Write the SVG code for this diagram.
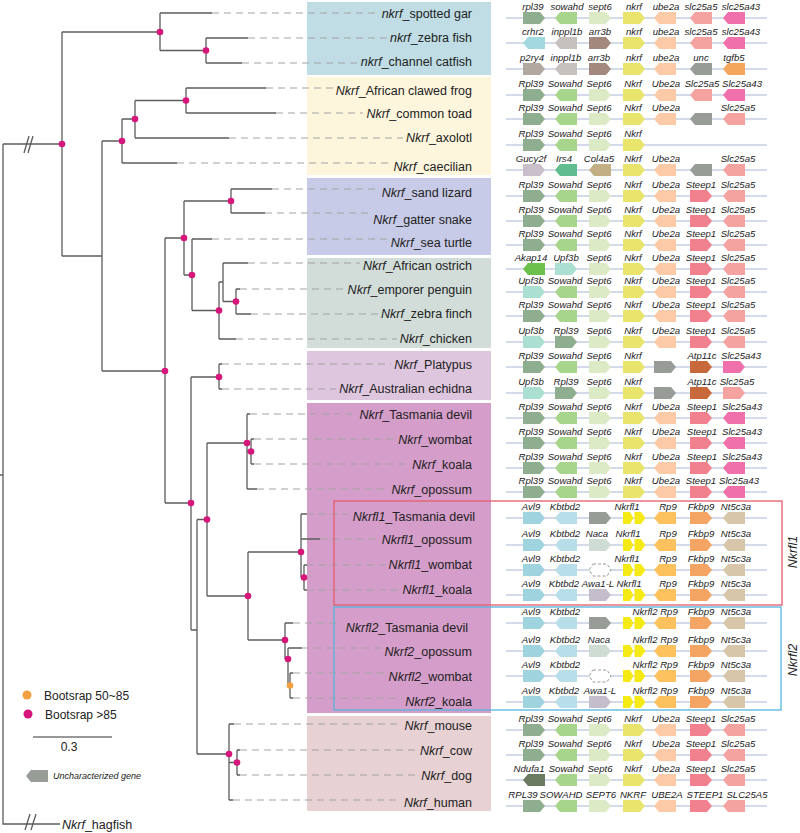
<svg xmlns="http://www.w3.org/2000/svg" width="800" height="833" viewBox="0 0 800 833">
<style>
.br{fill:none;stroke:#5c5c5c;stroke-width:1.3}
.dl{stroke:#a3a3a3;stroke-width:1;stroke-dasharray:7 5}
.dot{fill:#d6167a}
.dot2{fill:#f5a040}
.tx{font-family:"Liberation Sans",Arial,sans-serif;font-size:12.5px;fill:#222}
.it{font-style:italic}
.gl{font-family:"Liberation Sans",Arial,sans-serif;font-size:9.6px;font-style:italic;fill:#222;text-anchor:middle}
.trk{stroke:#a7b5d3;stroke-width:1.2}
.rpl{fill:#8fae8f}.sow{fill:#a8d58c}.sep{fill:#dcebc6}.nkf{fill:#e8e46c}.ube{fill:#fdcaa8}.s5{fill:#f5a3a1}.s43{fill:#ef70aa}
.crh{fill:#a2d9df}.inp{fill:#c6c1bf}.arr{fill:#a3887d}.p2r{fill:#b1a8a0}.unc{fill:#979c97}.tgf{fill:#f4a65c}.stp{fill:#f2818f}
.guc{fill:#c9bfcb}.irs{fill:#5fbd8e}.col{fill:#c2b084}.aka{fill:#6cc14c}.upf{fill:#aadfd2}.atp{fill:#c8693b}
.avl{fill:#9fd4df}.kbt{fill:#b8dfe9}.nac{fill:#cfdcd4}.awa{fill:#c4bdcb}.nkl{fill:#f5ea16}.rp9{fill:#fdc25e}.fkb{fill:#f4a564}.nt5{fill:#d8c6aa}.ndu{fill:#6a7a60}
.emp{fill:#fff;stroke:#9a9a9a;stroke-width:1;stroke-dasharray:3 2}
</style>
<defs>
<path id="R" d="M0,-6H17L22,0L17,6H0Z"/>
<path id="L" d="M5,-6H22V6H5L0,0Z"/>
<path id="D" d="M0,-6H7L10.5,0L7,6H0Z M11.5,-6H18L22.5,0L18,6H11.5Z"/>
<path id="E" d="M4,-6H18L22,0L18,6H4L0,0Z"/>
</defs>
<rect width="800" height="833" fill="#fff"/>
<g id="bands">
<rect x="307" y="2" width="184" height="73" fill="#c0dde5"/>
<rect x="307" y="77" width="184" height="98" fill="#fdf5dc"/>
<rect x="307" y="178" width="184" height="77" fill="#c8cbe8"/>
<rect x="307" y="258" width="184" height="90" fill="#d2ddd9"/>
<rect x="307" y="351" width="184" height="49" fill="#dfc6df"/>
<rect x="307" y="403" width="184" height="310" fill="#d59dc9"/>
<rect x="307" y="716" width="184" height="95" fill="#e7d1d3"/>
</g>
<g id="connectors">
<path class="br" d="M3,144H62M3,144V824H60M0,475H3
M62,32V256M62,32H160M62,256H102
M160,13V50.5M160,13H212M160,50.5H206
M206,38V63M206,38H248M206,63H242
M102,141V371M102,141H122M102,371H165
M122,119V163M122,119H135M122,163H177
M135,100.5V138M135,100.5H186M135,138H229
M186,88V113M186,88H266M186,113H276
M165,238V503M165,238H184M165,503H191
M184,201V275M184,201H231M184,275H192
M231,189V213M231,189H272M231,213H265
M192,239V310.5M192,239H212M192,310.5H219
M219,282V339M219,282H223M219,339H236
M223,263V301.5M223,263H248M223,301.5H236
M236,289V314M236,289H240M236,314H251
M191,377V630M191,377H219M191,630H197
M219,364V389M219,364H222M219,389H222
M197,519.5V754M197,519.5H207M197,754H229
M207,443V596M207,443H247M207,596H248
M247,414V489M247,414H250M247,489H257M247,451.5H251
M251,439V464M251,439H254M251,464H254
M248,552V640M248,552H301M248,640H285
M301,514V577.5M301,514H307M301,539H320M301,577.5H304
M304,565V590M304,565H307M304,590H307
M285,623V659M285,623H293M285,659H288
M288,648V685.5M288,648H302M288,685.5H290
M290,673V698M290,673H293M290,698H293
M229,724V800M229,724H234M229,800H233M229,762.5H237
M237,750V775M237,750H240M237,775H240"/>
<path class="br" d="M24,153L29,136M28,153L33,136M25,830L30,814M31,830L36,814"/>
<g id="dashes">
<line class="dl" x1="212" y1="13" x2="379" y2="13"/>
<line class="dl" x1="248" y1="38" x2="387" y2="38"/>
<line class="dl" x1="242" y1="63" x2="358" y2="63"/>
<line class="dl" x1="266" y1="88" x2="333" y2="88"/>
<line class="dl" x1="276" y1="113" x2="363" y2="113"/>
<line class="dl" x1="229" y1="138" x2="403" y2="138"/>
<line class="dl" x1="177" y1="163" x2="390" y2="163"/>
<line class="dl" x1="272" y1="189" x2="379" y2="189"/>
<line class="dl" x1="265" y1="213" x2="370" y2="213"/>
<line class="dl" x1="212" y1="239" x2="388" y2="239"/>
<line class="dl" x1="248" y1="263" x2="360" y2="263"/>
<line class="dl" x1="240" y1="289" x2="345" y2="289"/>
<line class="dl" x1="251" y1="314" x2="378" y2="314"/>
<line class="dl" x1="236" y1="339" x2="397" y2="339"/>
<line class="dl" x1="222" y1="364" x2="391" y2="364"/>
<line class="dl" x1="222" y1="389" x2="336" y2="389"/>
<line class="dl" x1="250" y1="414" x2="355" y2="414"/>
<line class="dl" x1="254" y1="439" x2="395" y2="439"/>
<line class="dl" x1="254" y1="464" x2="409" y2="464"/>
<line class="dl" x1="257" y1="489" x2="388" y2="489"/>
<line class="dl" x1="307" y1="514" x2="348" y2="514"/>
<line class="dl" x1="320" y1="539" x2="379" y2="539"/>
<line class="dl" x1="307" y1="565" x2="386" y2="565"/>
<line class="dl" x1="307" y1="590" x2="399" y2="590"/>
<line class="dl" x1="293" y1="623" x2="341" y2="623"/>
<line class="dl" x1="302" y1="648" x2="381" y2="648"/>
<line class="dl" x1="293" y1="673" x2="386" y2="673"/>
<line class="dl" x1="293" y1="698" x2="402" y2="698"/>
<line class="dl" x1="234" y1="724" x2="402" y2="724"/>
<line class="dl" x1="240" y1="750" x2="417" y2="750"/>
<line class="dl" x1="240" y1="775" x2="418" y2="775"/>
<line class="dl" x1="233" y1="800" x2="401" y2="800"/>
</g>
</g>
<g id="bootstrap-dots">
<circle class="dot" cx="62" cy="144" r="3.3"/><circle class="dot" cx="160" cy="32" r="3.3"/><circle class="dot" cx="206" cy="50.5" r="3.3"/>
<circle class="dot" cx="122" cy="141" r="3.3"/><circle class="dot" cx="135" cy="119" r="3.3"/><circle class="dot" cx="186" cy="100.5" r="3.3"/>
<circle class="dot" cx="165" cy="371" r="3.3"/><circle class="dot" cx="184" cy="238" r="3.3"/><circle class="dot" cx="231" cy="201" r="3.3"/>
<circle class="dot" cx="192" cy="275" r="3.3"/><circle class="dot" cx="219" cy="310.5" r="3.3"/><circle class="dot" cx="236" cy="301.5" r="3.3"/>
<circle class="dot" cx="219" cy="377" r="3.3"/><circle class="dot" cx="191" cy="503" r="3.3"/><circle class="dot" cx="207" cy="519.5" r="3.3"/>
<circle class="dot" cx="247" cy="443" r="3.3"/><circle class="dot" cx="251" cy="451.5" r="3.3"/><circle class="dot" cx="248" cy="596" r="3.3"/>
<circle class="dot" cx="301" cy="552" r="3.3"/><circle class="dot" cx="304" cy="577.5" r="3.3"/><circle class="dot" cx="285" cy="640" r="3.3"/>
<circle class="dot" cx="288" cy="659" r="3.3"/><circle class="dot2" cx="290" cy="685.5" r="3.3"/>
<circle class="dot" cx="229" cy="754" r="3.3"/><circle class="dot" cx="237" cy="762.5" r="3.3"/>
</g>
<g id="taxa" class="tx" text-anchor="end">
<g id="t-spotted-gar"><text x="472" y="17.5"><tspan class="it">nkrf</tspan>_spotted gar</text></g>
<g id="t-zebra-fish"><text x="472" y="41.5"><tspan class="it">nkrf</tspan>_zebra fish</text></g>
<g id="t-channel-catfish"><text x="472" y="65.5"><tspan class="it">nkrf</tspan>_channel catfish</text></g>
<g id="t-clawed-frog"><text x="472" y="94.5"><tspan class="it">Nkrf</tspan>_African clawed frog</text></g>
<g id="t-common-toad"><text x="472" y="117.5"><tspan class="it">Nkrf</tspan>_common toad</text></g>
<g id="t-axolotl"><text x="472" y="141.5"><tspan class="it">Nkrf</tspan>_axolotl</text></g>
<g id="t-caecilian"><text x="472" y="170.5"><tspan class="it">Nkrf</tspan>_caecilian</text></g>
<g id="t-sand-lizard"><text x="472" y="196.5"><tspan class="it">Nkrf</tspan>_sand lizard</text></g>
<g id="t-gatter-snake"><text x="472" y="223.5"><tspan class="it">Nkrf</tspan>_gatter snake</text></g>
<g id="t-sea-turtle"><text x="472" y="246.5"><tspan class="it">Nkrf</tspan>_sea turtle</text></g>
<g id="t-ostrich"><text x="472" y="269.5"><tspan class="it">Nkrf</tspan>_African ostrich</text></g>
<g id="t-penguin"><text x="472" y="293.5"><tspan class="it">Nkrf</tspan>_emporer penguin</text></g>
<g id="t-zebra-finch"><text x="472" y="317.5"><tspan class="it">Nkrf</tspan>_zebra finch</text></g>
<g id="t-chicken"><text x="472" y="342.5"><tspan class="it">Nkrf</tspan>_chicken</text></g>
<g id="t-platypus"><text x="472" y="368.5"><tspan class="it">Nkrf</tspan>_Platypus</text></g>
<g id="t-echidna"><text x="472" y="392.5"><tspan class="it">Nkrf</tspan>_Australian echidna</text></g>
<g id="t-tasmania-devil"><text x="472" y="418.5"><tspan class="it">Nkrf</tspan>_Tasmania devil</text></g>
<g id="t-wombat"><text x="472" y="443.5"><tspan class="it">Nkrf</tspan>_wombat</text></g>
<g id="t-koala"><text x="472" y="468.5"><tspan class="it">Nkrf</tspan>_koala</text></g>
<g id="t-opossum"><text x="472" y="493.5"><tspan class="it">Nkrf</tspan>_opossum</text></g>
<g id="t-l1-tasmania-devil"><text x="475" y="520.5"><tspan class="it">Nkrfl1</tspan>_Tasmania devil</text></g>
<g id="t-l1-opossum"><text x="472" y="543.5"><tspan class="it">Nkrfl1</tspan>_opossum</text></g>
<g id="t-l1-wombat"><text x="472" y="568.5"><tspan class="it">Nkrfl1</tspan>_wombat</text></g>
<g id="t-l1-koala"><text x="472" y="593.5"><tspan class="it">Nkrfl1</tspan>_koala</text></g>
<g id="t-l2-tasmania-devil"><text x="468" y="631.5"><tspan class="it">Nkrfl2</tspan>_Tasmania devil</text></g>
<g id="t-l2-opossum"><text x="472" y="655.5"><tspan class="it">Nkrf2</tspan>_opossum</text></g>
<g id="t-l2-wombat"><text x="472" y="680.5"><tspan class="it">Nkrfl2</tspan>_wombat</text></g>
<g id="t-l2-koala"><text x="472" y="705.5"><tspan class="it">Nkrf2</tspan>_koala</text></g>
<g id="t-mouse"><text x="472" y="729.5"><tspan class="it">Nkrf</tspan>_mouse</text></g>
<g id="t-cow"><text x="472" y="754.5"><tspan class="it">Nkrf</tspan>_cow</text></g>
<g id="t-dog"><text x="472" y="779.5"><tspan class="it">Nkrf</tspan>_dog</text></g>
<g id="t-human"><text x="472" y="806.5"><tspan class="it">Nkrf</tspan>_human</text></g>
<g id="t-hagfish"><text x="62" y="828.5" text-anchor="start"><tspan class="it">Nkrf</tspan>_hagfish</text></g>
</g>
<g id="tracks">
<g id="g-spotted-gar" transform="translate(0,18)"><line class="trk" x1="506" x2="767"/>
<use href="#R" class="rpl" x="523"/><use href="#L" class="sow" x="555"/><use href="#R" class="sep" x="589"/><use href="#R" class="nkf" x="623"/><use href="#L" class="ube" x="654"/><use href="#L" class="s5" x="690"/><use href="#L" class="s43" x="723"/>
<text class="gl" y="-8.5"><tspan x="533">rpl39</tspan><tspan x="567">sowahd</tspan><tspan x="600">sept6</tspan><tspan x="634">nkrf</tspan><tspan x="666">ube2a</tspan><tspan x="701">slc25a5</tspan><tspan x="741">slc25a43</tspan></text></g>
<g id="g-zebra-fish" transform="translate(0,43)"><line class="trk" x1="506" x2="767"/>
<use href="#L" class="crh" x="523"/><use href="#L" class="inp" x="555"/><use href="#R" class="arr" x="589"/><use href="#R" class="nkf" x="623"/><use href="#L" class="ube" x="654"/><use href="#L" class="s5" x="690"/><use href="#L" class="s43" x="723"/>
<text class="gl" y="-8.5"><tspan x="533">crhr2</tspan><tspan x="567">inppl1b</tspan><tspan x="600">arr3b</tspan><tspan x="634">nkrf</tspan><tspan x="666">ube2a</tspan><tspan x="701">slc25a5</tspan><tspan x="741">slc25a43</tspan></text></g>
<g id="g-channel-catfish" transform="translate(0,69)"><line class="trk" x1="506" x2="767"/>
<use href="#R" class="p2r" x="523"/><use href="#L" class="inp" x="555"/><use href="#R" class="arr" x="589"/><use href="#R" class="nkf" x="623"/><use href="#L" class="ube" x="654"/><use href="#L" class="unc" x="690"/><use href="#L" class="tgf" x="723"/>
<text class="gl" y="-8.5"><tspan x="532">p2ry4</tspan><tspan x="566">inppl1b</tspan><tspan x="599">arr3b</tspan><tspan x="634">nkrf</tspan><tspan x="666">ube2a</tspan><tspan x="701">unc</tspan><tspan x="734">tgfb5</tspan></text></g>
<g id="g-clawed-frog" transform="translate(0,95)"><line class="trk" x1="506" x2="767"/>
<use href="#R" class="rpl" x="523"/><use href="#L" class="sow" x="555"/><use href="#R" class="sep" x="589"/><use href="#R" class="nkf" x="623"/><use href="#L" class="ube" x="654"/><use href="#L" class="s5" x="690"/><use href="#L" class="s43" x="723"/>
<text class="gl" y="-8.5"><tspan x="531">Rpl39</tspan><tspan x="565">Sowahd</tspan><tspan x="599">Sept6</tspan><tspan x="633">Nkrf</tspan><tspan x="666">Ube2a</tspan><tspan x="702">Slc25a5</tspan><tspan x="742">Slc25a43</tspan></text></g>
<g id="g-common-toad" transform="translate(0,119)"><line class="trk" x1="506" x2="767"/>
<use href="#R" class="rpl" x="523"/><use href="#L" class="sow" x="555"/><use href="#R" class="sep" x="589"/><use href="#R" class="nkf" x="623"/><use href="#L" class="ube" x="654"/><use href="#L" class="unc" x="690"/><use href="#L" class="s5" x="723"/>
<text class="gl" y="-8.5"><tspan x="531">Rpl39</tspan><tspan x="565">Sowahd</tspan><tspan x="599">Sept6</tspan><tspan x="633">Nkrf</tspan><tspan x="666">Ube2a</tspan><tspan x="738">Slc25a5</tspan></text></g>
<g id="g-axolotl" transform="translate(0,145)"><line class="trk" x1="506" x2="767"/>
<use href="#R" class="rpl" x="523"/><use href="#L" class="sow" x="555"/><use href="#R" class="sep" x="589"/><use href="#R" class="nkf" x="623"/>
<text class="gl" y="-8.5"><tspan x="531">Rpl39</tspan><tspan x="565">Sowahd</tspan><tspan x="599">Sept6</tspan><tspan x="633">Nkrf</tspan></text></g>
<g id="g-caecilian" transform="translate(0,170)"><line class="trk" x1="506" x2="767"/>
<use href="#R" class="guc" x="523"/><use href="#L" class="irs" x="555"/><use href="#L" class="col" x="589"/><use href="#R" class="nkf" x="623"/><use href="#L" class="ube" x="654"/><use href="#L" class="unc" x="690"/><use href="#L" class="s5" x="723"/>
<text class="gl" y="-8.5"><tspan x="531">Gucy2f</tspan><tspan x="564">Irs4</tspan><tspan x="599">Col4a5</tspan><tspan x="633">Nkrf</tspan><tspan x="666">Ube2a</tspan><tspan x="738">Slc25a5</tspan></text></g>
<g id="g-sand-lizard" transform="translate(0,196)"><line class="trk" x1="506" x2="767"/>
<use href="#R" class="rpl" x="523"/><use href="#L" class="sow" x="555"/><use href="#R" class="sep" x="589"/><use href="#R" class="nkf" x="623"/><use href="#L" class="ube" x="654"/><use href="#R" class="stp" x="690"/><use href="#L" class="s5" x="723"/>
<text class="gl" y="-8.5"><tspan x="531">Rpl39</tspan><tspan x="565">Sowahd</tspan><tspan x="599">Sept6</tspan><tspan x="633">Nkrf</tspan><tspan x="666">Ube2a</tspan><tspan x="701">Steep1</tspan><tspan x="738">Slc25a5</tspan></text></g>
<g id="g-gatter-snake" transform="translate(0,221)"><line class="trk" x1="506" x2="767"/>
<use href="#R" class="rpl" x="523"/><use href="#L" class="sow" x="555"/><use href="#R" class="sep" x="589"/><use href="#R" class="nkf" x="623"/><use href="#L" class="ube" x="654"/><use href="#R" class="stp" x="690"/><use href="#L" class="s5" x="723"/>
<text class="gl" y="-8.5"><tspan x="531">Rpl39</tspan><tspan x="565">Sowahd</tspan><tspan x="599">Sept6</tspan><tspan x="633">Nkrf</tspan><tspan x="666">Ube2a</tspan><tspan x="701">Steep1</tspan><tspan x="738">Slc25a5</tspan></text></g>
<g id="g-sea-turtle" transform="translate(0,245)"><line class="trk" x1="506" x2="767"/>
<use href="#R" class="rpl" x="523"/><use href="#L" class="sow" x="555"/><use href="#R" class="sep" x="589"/><use href="#R" class="nkf" x="623"/><use href="#L" class="ube" x="654"/><use href="#R" class="stp" x="690"/><use href="#L" class="s5" x="723"/>
<text class="gl" y="-8.5"><tspan x="531">Rpl39</tspan><tspan x="565">Sowahd</tspan><tspan x="599">Sept6</tspan><tspan x="633">Nkrf</tspan><tspan x="666">Ube2a</tspan><tspan x="701">Steep1</tspan><tspan x="738">Slc25a5</tspan></text></g>
<g id="g-ostrich" transform="translate(0,269)"><line class="trk" x1="506" x2="767"/>
<use href="#L" class="aka" x="523"/><use href="#R" class="upf" x="555"/><use href="#R" class="sep" x="589"/><use href="#R" class="nkf" x="623"/><use href="#L" class="ube" x="654"/><use href="#R" class="stp" x="690"/><use href="#L" class="s5" x="723"/>
<text class="gl" y="-8.5"><tspan x="531">Akap14</tspan><tspan x="566">Upf3b</tspan><tspan x="599">Sept6</tspan><tspan x="633">Nkrf</tspan><tspan x="666">Ube2a</tspan><tspan x="701">Steep1</tspan><tspan x="738">Slc25a5</tspan></text></g>
<g id="g-penguin" transform="translate(0,292)"><line class="trk" x1="506" x2="767"/>
<use href="#R" class="upf" x="523"/><use href="#L" class="sow" x="555"/><use href="#R" class="sep" x="589"/><use href="#R" class="nkf" x="623"/><use href="#L" class="ube" x="654"/><use href="#R" class="stp" x="690"/><use href="#L" class="s5" x="723"/>
<text class="gl" y="-8.5"><tspan x="531">Upf3b</tspan><tspan x="565">Sowahd</tspan><tspan x="599">Sept6</tspan><tspan x="633">Nkrf</tspan><tspan x="666">Ube2a</tspan><tspan x="701">Steep1</tspan><tspan x="738">Slc25a5</tspan></text></g>
<g id="g-zebra-finch" transform="translate(0,316)"><line class="trk" x1="506" x2="767"/>
<use href="#R" class="rpl" x="523"/><use href="#L" class="sow" x="555"/><use href="#R" class="sep" x="589"/><use href="#R" class="nkf" x="623"/><use href="#L" class="ube" x="654"/><use href="#R" class="stp" x="690"/><use href="#L" class="s5" x="723"/>
<text class="gl" y="-8.5"><tspan x="531">Rpl39</tspan><tspan x="565">Sowahd</tspan><tspan x="599">Sept6</tspan><tspan x="633">Nkrf</tspan><tspan x="666">Ube2a</tspan><tspan x="701">Steep1</tspan><tspan x="738">Slc25a5</tspan></text></g>
<g id="g-chicken" transform="translate(0,342)"><line class="trk" x1="506" x2="767"/>
<use href="#R" class="upf" x="523"/><use href="#R" class="rpl" x="555"/><use href="#R" class="sep" x="589"/><use href="#R" class="nkf" x="623"/><use href="#L" class="ube" x="654"/><use href="#R" class="stp" x="690"/><use href="#L" class="s5" x="723"/>
<text class="gl" y="-8.5"><tspan x="531">Upf3b</tspan><tspan x="566">Rpl39</tspan><tspan x="599">Sept6</tspan><tspan x="633">Nkrf</tspan><tspan x="666">Ube2a</tspan><tspan x="701">Steep1</tspan><tspan x="738">Slc25a5</tspan></text></g>
<g id="g-platypus" transform="translate(0,367)"><line class="trk" x1="506" x2="767"/>
<use href="#R" class="rpl" x="523"/><use href="#L" class="sow" x="555"/><use href="#R" class="sep" x="589"/><use href="#R" class="nkf" x="623"/><use href="#R" class="unc" x="654"/><use href="#R" class="atp" x="690"/><use href="#R" class="s43" x="723"/>
<text class="gl" y="-8.5"><tspan x="531">Rpl39</tspan><tspan x="565">Sowahd</tspan><tspan x="599">Sept6</tspan><tspan x="633">Nkrf</tspan><tspan x="702">Atp11c</tspan><tspan x="741">Slc25a43</tspan></text></g>
<g id="g-echidna" transform="translate(0,393)"><line class="trk" x1="506" x2="767"/>
<use href="#R" class="upf" x="523"/><use href="#R" class="rpl" x="555"/><use href="#R" class="sep" x="589"/><use href="#R" class="nkf" x="623"/><use href="#R" class="unc" x="654"/><use href="#R" class="atp" x="690"/><use href="#R" class="s5" x="723"/>
<text class="gl" y="-8.5"><tspan x="531">Upf3b</tspan><tspan x="566">Rpl39</tspan><tspan x="599">Sept6</tspan><tspan x="633">Nkrf</tspan><tspan x="702">Atp11c</tspan><tspan x="737">Slc25a5</tspan></text></g>
<g id="g-tasmania-devil" transform="translate(0,418)"><line class="trk" x1="506" x2="767"/>
<use href="#R" class="rpl" x="523"/><use href="#L" class="sow" x="555"/><use href="#R" class="sep" x="589"/><use href="#R" class="nkf" x="623"/><use href="#L" class="ube" x="654"/><use href="#R" class="stp" x="690"/><use href="#L" class="s43" x="723"/>
<text class="gl" y="-8.5"><tspan x="531">Rpl39</tspan><tspan x="565">Sowahd</tspan><tspan x="599">Sept6</tspan><tspan x="633">Nkrf</tspan><tspan x="666">Ube2a</tspan><tspan x="702">Steep1</tspan><tspan x="742">Slc25a43</tspan></text></g>
<g id="g-wombat" transform="translate(0,443)"><line class="trk" x1="506" x2="767"/>
<use href="#R" class="rpl" x="523"/><use href="#L" class="sow" x="555"/><use href="#R" class="sep" x="589"/><use href="#R" class="nkf" x="623"/><use href="#L" class="ube" x="654"/><use href="#R" class="stp" x="690"/><use href="#L" class="s43" x="723"/>
<text class="gl" y="-8.5"><tspan x="531">Rpl39</tspan><tspan x="565">Sowahd</tspan><tspan x="599">Sept6</tspan><tspan x="633">Nkrf</tspan><tspan x="666">Ube2a</tspan><tspan x="702">Steep1</tspan><tspan x="742">Slc25a43</tspan></text></g>
<g id="g-koala" transform="translate(0,468)"><line class="trk" x1="506" x2="767"/>
<use href="#R" class="rpl" x="523"/><use href="#L" class="sow" x="555"/><use href="#R" class="sep" x="589"/><use href="#R" class="nkf" x="623"/><use href="#L" class="ube" x="654"/><use href="#R" class="stp" x="690"/><use href="#L" class="s43" x="723"/>
<text class="gl" y="-8.5"><tspan x="531">Rpl39</tspan><tspan x="565">Sowahd</tspan><tspan x="599">Sept6</tspan><tspan x="633">Nkrf</tspan><tspan x="666">Ube2a</tspan><tspan x="702">Steep1</tspan><tspan x="742">Slc25a43</tspan></text></g>
<g id="g-opossum" transform="translate(0,492)"><line class="trk" x1="506" x2="767"/>
<use href="#R" class="rpl" x="523"/><use href="#L" class="sow" x="555"/><use href="#R" class="sep" x="589"/><use href="#R" class="nkf" x="623"/><use href="#L" class="ube" x="654"/><use href="#R" class="stp" x="690"/><use href="#L" class="s43" x="723"/>
<text class="gl" y="-8.5"><tspan x="531">Rpl39</tspan><tspan x="565">Sowahd</tspan><tspan x="599">Sept6</tspan><tspan x="633">Nkrf</tspan><tspan x="666">Ube2a</tspan><tspan x="701">Steep1</tspan><tspan x="739">Slc25a43</tspan></text></g>
<g id="g-l1-tasmania-devil" transform="translate(0,518)"><line class="trk" x1="506" x2="767"/>
<use href="#R" class="avl" x="523"/><use href="#L" class="kbt" x="555"/><use href="#R" class="unc" x="589"/><use href="#D" class="nkl" x="623"/><use href="#L" class="rp9" x="654"/><use href="#R" class="fkb" x="690"/><use href="#L" class="nt5" x="723"/>
<text class="gl" y="-8.5"><tspan x="531">Avl9</tspan><tspan x="565">Kbtbd2</tspan><tspan x="627">Nkrfl1</tspan><tspan x="668">Rp9</tspan><tspan x="701">Fkbp9</tspan><tspan x="736">Nt5c3a</tspan></text></g>
<g id="g-l1-opossum" transform="translate(0,545)"><line class="trk" x1="506" x2="767"/>
<use href="#R" class="avl" x="523"/><use href="#L" class="kbt" x="555"/><use href="#R" class="nac" x="589"/><use href="#D" class="nkl" x="623"/><use href="#L" class="rp9" x="654"/><use href="#R" class="fkb" x="690"/><use href="#L" class="nt5" x="723"/>
<text class="gl" y="-8.5"><tspan x="531">Avl9</tspan><tspan x="565">Kbtbd2</tspan><tspan x="597">Naca</tspan><tspan x="628">Nkrfl1</tspan><tspan x="668">Rp9</tspan><tspan x="701">Fkbp9</tspan><tspan x="736">Nt5c3a</tspan></text></g>
<g id="g-l1-wombat" transform="translate(0,570)"><line class="trk" x1="506" x2="767"/>
<use href="#R" class="avl" x="523"/><use href="#L" class="kbt" x="555"/><use href="#E" class="emp" x="589"/><use href="#D" class="nkl" x="623"/><use href="#L" class="rp9" x="654"/><use href="#R" class="fkb" x="690"/><use href="#L" class="nt5" x="723"/>
<text class="gl" y="-8.5"><tspan x="531">Avl9</tspan><tspan x="565">Kbtbd2</tspan><tspan x="627">Nkrfl1</tspan><tspan x="668">Rp9</tspan><tspan x="701">Fkbp9</tspan><tspan x="736">Nt5c3a</tspan></text></g>
<g id="g-l1-koala" transform="translate(0,595)"><line class="trk" x1="506" x2="767"/>
<use href="#R" class="avl" x="523"/><use href="#L" class="kbt" x="555"/><use href="#R" class="awa" x="589"/><use href="#D" class="nkl" x="623"/><use href="#L" class="rp9" x="654"/><use href="#R" class="fkb" x="690"/><use href="#L" class="nt5" x="723"/>
<text class="gl" y="-8.5"><tspan x="531">Avl9</tspan><tspan x="564">Kbtbd2</tspan><tspan x="598">Awa1-L</tspan><tspan x="629">Nkrfl1</tspan><tspan x="668">Rp9</tspan><tspan x="701">Fkbp9</tspan><tspan x="736">Nt5c3a</tspan></text></g>
<g id="g-l2-tasmania-devil" transform="translate(0,623)"><line class="trk" x1="506" x2="767"/>
<use href="#R" class="avl" x="523"/><use href="#L" class="kbt" x="555"/><use href="#R" class="unc" x="589"/><use href="#D" class="nkl" x="623"/><use href="#L" class="rp9" x="654"/><use href="#R" class="fkb" x="690"/><use href="#L" class="nt5" x="723"/>
<text class="gl" y="-8.5"><tspan x="531">Avl9</tspan><tspan x="565">Kbtbd2</tspan><tspan x="645">Nkrfl2</tspan><tspan x="669">Rp9</tspan><tspan x="701">Fkbp9</tspan><tspan x="736">Nt5c3a</tspan></text></g>
<g id="g-l2-opossum" transform="translate(0,651)"><line class="trk" x1="506" x2="767"/>
<use href="#R" class="avl" x="523"/><use href="#L" class="kbt" x="555"/><use href="#R" class="nac" x="589"/><use href="#D" class="nkl" x="623"/><use href="#L" class="rp9" x="654"/><use href="#R" class="fkb" x="690"/><use href="#L" class="nt5" x="723"/>
<text class="gl" y="-8.5"><tspan x="531">Avl9</tspan><tspan x="565">Kbtbd2</tspan><tspan x="599">Naca</tspan><tspan x="645">Nkrfl2</tspan><tspan x="669">Rp9</tspan><tspan x="701">Fkbp9</tspan><tspan x="736">Nt5c3a</tspan></text></g>
<g id="g-l2-wombat" transform="translate(0,676)"><line class="trk" x1="506" x2="767"/>
<use href="#R" class="avl" x="523"/><use href="#L" class="kbt" x="555"/><use href="#E" class="emp" x="589"/><use href="#D" class="nkl" x="623"/><use href="#L" class="rp9" x="654"/><use href="#R" class="fkb" x="690"/><use href="#L" class="nt5" x="723"/>
<text class="gl" y="-8.5"><tspan x="531">Avl9</tspan><tspan x="565">Kbtbd2</tspan><tspan x="645">Nkrfl2</tspan><tspan x="669">Rp9</tspan><tspan x="701">Fkbp9</tspan><tspan x="736">Nt5c3a</tspan></text></g>
<g id="g-l2-koala" transform="translate(0,702)"><line class="trk" x1="506" x2="767"/>
<use href="#R" class="avl" x="523"/><use href="#L" class="kbt" x="555"/><use href="#R" class="awa" x="589"/><use href="#D" class="nkl" x="623"/><use href="#L" class="rp9" x="654"/><use href="#R" class="fkb" x="690"/><use href="#L" class="nt5" x="723"/>
<text class="gl" y="-8.5"><tspan x="531">Avl9</tspan><tspan x="564">Kbtbd2</tspan><tspan x="600">Awa1-L</tspan><tspan x="645">Nkrfl2</tspan><tspan x="669">Rp9</tspan><tspan x="701">Fkbp9</tspan><tspan x="736">Nt5c3a</tspan></text></g>
<g id="g-mouse" transform="translate(0,730)"><line class="trk" x1="506" x2="767"/>
<use href="#R" class="rpl" x="523"/><use href="#L" class="sow" x="555"/><use href="#R" class="sep" x="589"/><use href="#R" class="nkf" x="623"/><use href="#L" class="ube" x="654"/><use href="#R" class="stp" x="690"/><use href="#L" class="s5" x="723"/>
<text class="gl" y="-8.5"><tspan x="531">Rpl39</tspan><tspan x="565">Sowahd</tspan><tspan x="599">Sept6</tspan><tspan x="633">Nkrf</tspan><tspan x="666">Ube2a</tspan><tspan x="701">Steep1</tspan><tspan x="738">Slc25a5</tspan></text></g>
<g id="g-cow" transform="translate(0,755)"><line class="trk" x1="506" x2="767"/>
<use href="#R" class="rpl" x="523"/><use href="#L" class="sow" x="555"/><use href="#R" class="sep" x="589"/><use href="#R" class="nkf" x="623"/><use href="#L" class="ube" x="654"/><use href="#R" class="stp" x="690"/><use href="#L" class="s5" x="723"/>
<text class="gl" y="-8.5"><tspan x="531">Rpl39</tspan><tspan x="565">Sowahd</tspan><tspan x="599">Sept6</tspan><tspan x="633">Nkrf</tspan><tspan x="666">Ube2a</tspan><tspan x="701">Steep1</tspan><tspan x="738">Slc25a5</tspan></text></g>
<g id="g-dog" transform="translate(0,780)"><line class="trk" x1="506" x2="767"/>
<use href="#L" class="ndu" x="523"/><use href="#L" class="sow" x="555"/><use href="#R" class="sep" x="589"/><use href="#R" class="nkf" x="623"/><use href="#L" class="ube" x="654"/><use href="#R" class="stp" x="690"/><use href="#L" class="s5" x="723"/>
<text class="gl" y="-8.5"><tspan x="529">Ndufa1</tspan><tspan x="566">Sowahd</tspan><tspan x="600">Sept6</tspan><tspan x="633">Nkrf</tspan><tspan x="666">Ube2a</tspan><tspan x="701">Steep1</tspan><tspan x="738">Slc25a5</tspan></text></g>
<g id="g-human" transform="translate(0,806)"><line class="trk" x1="506" x2="767"/>
<use href="#R" class="rpl" x="523"/><use href="#L" class="sow" x="555"/><use href="#R" class="sep" x="589"/><use href="#R" class="nkf" x="623"/><use href="#L" class="ube" x="654"/><use href="#R" class="stp" x="690"/><use href="#L" class="s5" x="723"/>
<text class="gl" y="-8.5"><tspan x="523">RPL39</tspan><tspan x="561">SOWAHD</tspan><tspan x="601">SEPT6</tspan><tspan x="633">NKRF</tspan><tspan x="667">UBE2A</tspan><tspan x="705">STEEP1</tspan><tspan x="747">SLC25A5</tspan></text></g>
</g>
<g id="paralog-boxes" fill="none" stroke-width="1.3">
<rect id="box-nkrfl1" x="334" y="501" width="448" height="104" stroke="#e35d6a"/>
<rect id="box-nkrfl2" x="334" y="607" width="447" height="103" stroke="#55b5dd"/>
<text class="tx it" font-size="14.5" text-anchor="middle" transform="translate(797,552) rotate(-90)" stroke="none">Nkrfl1</text>
<text class="tx it" font-size="14.5" text-anchor="middle" transform="translate(797,660) rotate(-90)" stroke="none">Nkrfl2</text>
</g>
<g id="legend" class="tx">
<circle class="dot2" cx="27" cy="695" r="4.5"/><text x="44" y="699.5" font-size="12">Bootsrap 50~85</text>
<circle class="dot" cx="28" cy="714" r="4.5"/><text x="45" y="718.5" font-size="12">Bootsrap &gt;85</text>
<line x1="33" y1="737" x2="112" y2="737" stroke="#333" stroke-width="1.2"/>
<text x="69" y="751" font-size="12" text-anchor="middle">0.3</text>
<use href="#L" class="unc" x="26" y="776"/>
<text x="53" y="779" font-size="9" font-style="italic">Uncharacterized gene</text>
</g>
</svg>
